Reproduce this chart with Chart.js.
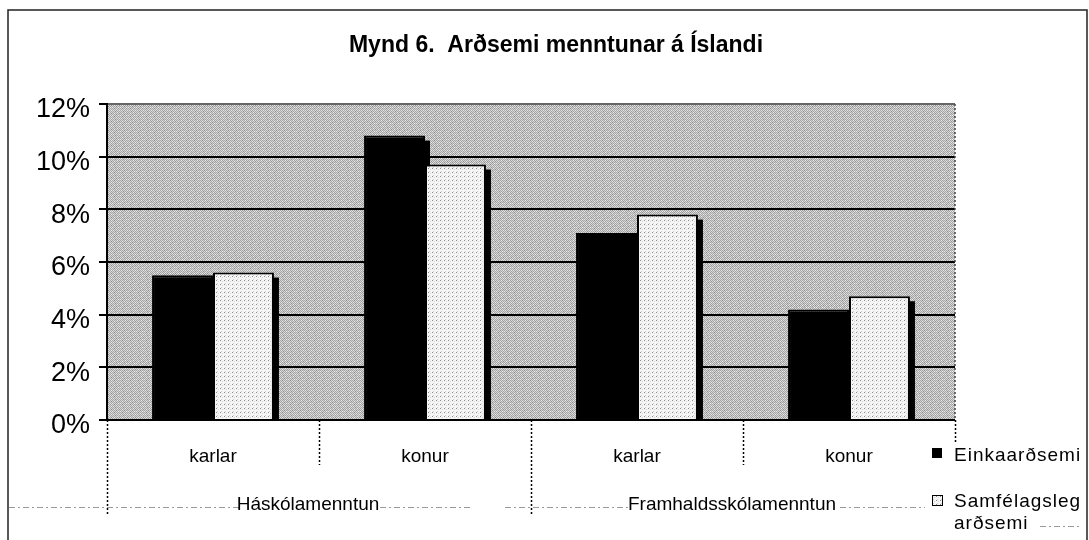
<!DOCTYPE html>
<html><head><meta charset="utf-8">
<script src="https://cdn.jsdelivr.net/npm/chart.js@4/dist/chart.umd.min.js"></script>
<style>html,body{margin:0;padding:0;background:#fff;overflow:hidden}</style>
</head><body>
<canvas id="c" width="1089" height="540"></canvas>
<script>
// ---- data ----
const chartTitle = 'Mynd 6.  Arðsemi menntunar á Íslandi';
const categories = ['karlar', 'konur', 'karlar', 'konur'];
const groupLabels = ['Háskólamenntun', 'Framhaldsskólamenntun'];
const groupSizes = [2, 2];
const seriesNames = ['Einkaarðsemi', 'Samfélagsleg arðsemi'];
const einkaValues = [5.5, 10.8, 7.1, 4.2];
const samfValues = [5.6, 9.7, 7.8, 4.7];
const yMin = 0, yMax = 12, yStep = 2;

const FONT = '"Liberation Sans", Arial, sans-serif';

function makePattern(rows) {
  const c = document.createElement('canvas');
  c.width = rows[0].length; c.height = rows.length;
  const g = c.getContext('2d');
  rows.forEach((r, y) => r.forEach((col, x) => { g.fillStyle = col; g.fillRect(x, y, 1, 1); }));
  return g.createPattern(c, 'repeat');
}
const A = '#a4a4a4', B = '#d6d6d6', C = '#ececec', E = '#8e8e8e';
const bgPattern = makePattern([
  [A, B, A, B, A, C, A, B],
  [B, A, C, A, B, A, B, E],
  [A, B, A, B, E, B, A, B],
  [C, A, B, A, B, A, C, A],
  [A, B, E, B, A, B, A, B],
  [B, A, B, A, C, A, B, A],
  [A, C, A, B, A, B, A, C],
  [B, A, B, E, B, A, B, A]
]);
const W = '#f6f6f6', D = '#8a8a8a', L = '#d0d0d0';
const lightPattern = makePattern([
  [D, W, W, W],
  [W, W, L, W],
  [W, W, W, W],
  [W, L, W, W]
]);

const deco = {
  id: 'deco',
  beforeDraw(chart) {
    const { ctx, chartArea: a } = chart;
    ctx.save();
    ctx.fillStyle = '#fff';
    ctx.fillRect(0, 0, chart.width, chart.height);
    // frame
    ctx.strokeStyle = '#222';
    ctx.lineWidth = 1.5;
    ctx.beginPath();
    ctx.moveTo(8, 540); ctx.lineTo(8, 10); ctx.lineTo(1087, 10); ctx.lineTo(1087, 540);
    ctx.stroke();
    // plot background
    ctx.fillStyle = bgPattern;
    ctx.fillRect(a.left, a.top, a.right - a.left, a.bottom - a.top);
    ctx.restore();
  },
  beforeDatasetsDraw(chart) {
    const { ctx, chartArea: a } = chart;
    ctx.save();
    // dotted right border of plot area
    ctx.strokeStyle = '#444';
    ctx.lineWidth = 1.5;
    ctx.setLineDash([2, 2]);
    ctx.beginPath();
    ctx.moveTo(a.right, a.top); ctx.lineTo(a.right, a.bottom);
    ctx.stroke();
    ctx.setLineDash([]);
    // bar shadows
    ctx.fillStyle = '#000';
    chart.data.datasets.forEach((ds, i) => {
      chart.getDatasetMeta(i).data.forEach(el => {
        const p = el.getProps(['x', 'y', 'base', 'width'], true);
        const left = p.x - p.width / 2 + 5;
        ctx.fillRect(left, p.y + 5, p.width, p.base - p.y - 3);
      });
    });
    ctx.restore();
  },
  afterDraw(chart) {
    const { ctx, chartArea: a } = chart;
    const xs = chart.scales.x;
    ctx.save();
    // title
    ctx.fillStyle = '#000';
    ctx.font = 'bold 23px ' + FONT;
    ctx.textAlign = 'center';
    ctx.textBaseline = 'alphabetic';
    ctx.fillText(chartTitle, 556, 52);

    // category dividers
    const n = categories.length;
    const bounds = [a.left];
    for (let i = 1; i < n; i++) bounds.push((xs.getPixelForValue(i - 1) + xs.getPixelForValue(i)) / 2);
    bounds.push(a.right);
    const groupStarts = [0];
    groupSizes.reduce((s, g) => { groupStarts.push(s + g); return s + g; }, 0);
    ctx.strokeStyle = '#000';
    ctx.lineWidth = 1.5;
    ctx.setLineDash([2, 2]);
    bounds.forEach((bx, i) => {
      const isGroup = groupStarts.includes(i);
      let bottom = isGroup ? 515 : 465;
      if (i === n) bottom = 442;
      ctx.beginPath();
      ctx.moveTo(Math.round(bx) + 0.5, a.bottom);
      ctx.lineTo(Math.round(bx) + 0.5, bottom);
      ctx.stroke();
    });
    ctx.setLineDash([]);

    // faint scan dashes
    ctx.strokeStyle = '#9a9a9a';
    ctx.lineWidth = 1;
    ctx.setLineDash([6, 3, 2, 3]);
    [[9, 240], [380, 470], [505, 628], [840, 925], [1040, 1080]].forEach(([x1, x2], k) => {
      const yy = k === 4 ? 526.5 : 507.5;
      ctx.beginPath(); ctx.moveTo(x1, yy); ctx.lineTo(x2, yy); ctx.stroke();
    });
    ctx.setLineDash([]);

    // group labels
    ctx.fillStyle = '#000';
    ctx.font = '19px ' + FONT;
    ctx.textAlign = 'center';
    groupLabels.forEach((g, gi) => {
      const s = groupStarts[gi], e = groupStarts[gi + 1];
      const cx = (bounds[s] + bounds[e]) / 2 - 11;
      ctx.fillText(g, cx, 510);
    });

    // legend
    ctx.textAlign = 'left';
    ctx.font = '19px ' + FONT;
    ctx.letterSpacing = '1px';
    ctx.fillStyle = '#000';
    ctx.fillRect(932, 448, 10, 10);
    ctx.fillText(seriesNames[0], 954, 461);
    ctx.fillStyle = lightPattern;
    ctx.fillRect(932, 495, 10, 10);
    ctx.strokeStyle = '#000';
    ctx.lineWidth = 1;
    ctx.strokeRect(932.5, 495.5, 10, 10);
    ctx.fillStyle = '#000';
    const parts = seriesNames[1].split(' ');
    ctx.fillText(parts[0], 954, 507);
    ctx.fillText(parts.slice(1).join(' '), 954, 529);
    ctx.restore();
  }
};

new Chart(document.getElementById('c'), {
  type: 'bar',
  data: {
    labels: categories,
    datasets: [
      { label: seriesNames[0], data: einkaValues, backgroundColor: '#000', borderColor: '#000', borderWidth: 2 },
      { label: seriesNames[1], data: samfValues, backgroundColor: lightPattern, borderColor: '#000', borderWidth: 2 }
    ]
  },
  options: {
    responsive: false,
    animation: false,
    devicePixelRatio: 1,
    layout: { padding: { left: 8, right: 134, top: 104, bottom: 0 } },
    datasets: { bar: { categoryPercentage: 0.575, barPercentage: 1.0 } },
    plugins: { legend: { display: false }, title: { display: false }, tooltip: { enabled: false } },
    scales: {
      x: {
        grid: { display: false, drawTicks: false },
        border: { display: false },
        ticks: { color: '#000', font: { family: FONT, size: 19 }, padding: 25, maxRotation: 0 },
        afterFit(s) { s.height = 120; }
      },
      y: {
        min: yMin, max: yMax,
        grid: {
          color: ctx => ctx.tick && ctx.tick.value === yMax ? '#666' : '#000',
          lineWidth: 2,
          drawTicks: true,
          tickLength: 8,
          tickColor: '#000'
        },
        border: { display: true, color: '#000', width: 2 },
        ticks: {
          stepSize: yStep,
          color: '#000',
          font: { family: FONT, size: 27 },
          padding: 9,
          labelOffset: 6,
          callback: v => v + '%'
        },
        afterFit(s) { s.width = 99; }
      }
    }
  },
  plugins: [deco]
});
</script>
</body></html>
